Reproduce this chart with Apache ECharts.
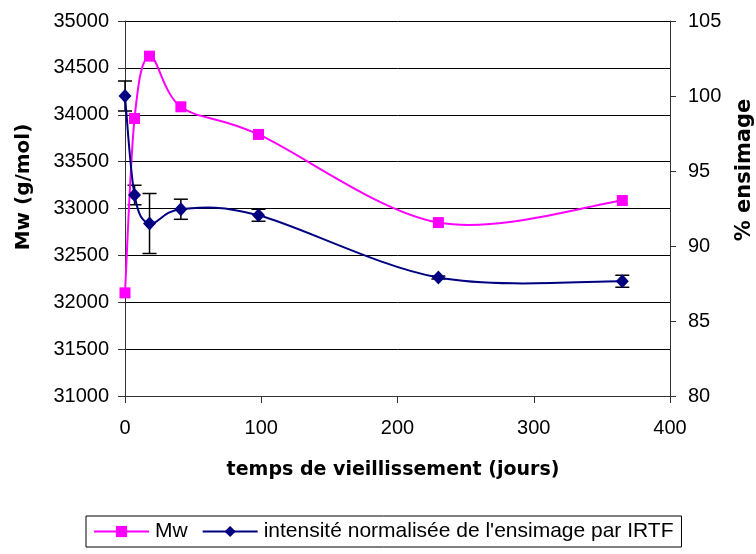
<!DOCTYPE html>
<html>
<head>
<meta charset="utf-8">
<script src="https://cdn.jsdelivr.net/npm/echarts@6/dist/echarts.min.js"></script>
<style>html,body{margin:0;padding:0;background:#fff;}#c{width:756px;height:554px;}</style>
</head>
<body>
<div id="c"></div>
<script>
// Data
const days = [0, 7, 18, 41, 98, 230, 365];
const mw = [32100, 33960, 34625, 34085, 33790, 32850, 33085];
const irtf = [100, 93.4, 91.5, 92.45, 92.05, 87.9, 87.65];
const irtfErr = [1, 0.65, 2, 0.67, 0.4, 0.1, 0.4];
const mwName = 'Mw';
const irtfName = "intensité normalisée de l'ensimage par IRTF";
const xTitle = 'temps de vieillissement (jours)';
const yLeftTitle = 'Mw (g/mol)';
const yRightTitle = '% ensimage';

const chart = echarts.init(document.getElementById('c'), null, {renderer: 'canvas'});
const FONT = 'Liberation Sans';
const TFONT = 'DejaVu Sans';
const axisColor = '#333';
const PINK = '#FF00FF';
const NAVY = '#000080';

// Excel-like smoothed curve (Catmull-Rom through the points, drawn with axis coords)
function curveRenderer(xs, ys, color) {
  return function (params, api) {
    const i = params.dataIndex;
    const n = xs.length;
    if (i >= n - 1) return null;
    const P = k => {
      const j = Math.max(0, Math.min(n - 1, k));
      return api.coord([xs[j], ys[j]]);
    };
    const p0 = P(i - 1), p1 = P(i), p2 = P(i + 1), p3 = P(i + 2);
    return {
      type: 'bezierCurve',
      shape: {
        x1: p1[0], y1: p1[1], x2: p2[0], y2: p2[1],
        cpx1: p1[0] + (p2[0] - p0[0]) / 6, cpy1: p1[1] + (p2[1] - p0[1]) / 6,
        cpx2: p2[0] - (p3[0] - p1[0]) / 6, cpy2: p2[1] - (p3[1] - p1[1]) / 6
      },
      style: {stroke: color, lineWidth: 2, fill: null}
    };
  };
}

const option = {
  animation: false,
  backgroundColor: '#fff',
  grid: {left: 125, top: 21, right: 86, bottom: 158, containLabel: false},
  legend: {
    data: [
      {name: mwName, lineStyle: {color: PINK, width: 2, opacity: 1}},
      {name: irtfName, lineStyle: {color: NAVY, width: 2, opacity: 1}}
    ],
    left: 86, top: 516,
    padding: [5, 8, 5, 7],
    itemWidth: 55, itemHeight: 14, itemGap: 14,
    borderColor: '#000', borderWidth: 1,
    textStyle: {fontFamily: FONT, fontSize: 21, color: '#000', padding: [0, 0, 0, 1]}
  },
  xAxis: {
    type: 'value', min: 0, max: 400, interval: 100,
    axisLine: {show: true, onZero: false, lineStyle: {color: axisColor, width: 1}},
    axisTick: {show: true, inside: false, length: 7, lineStyle: {color: axisColor}},
    axisLabel: {fontFamily: FONT, fontSize: 20, color: '#000', margin: 22},
    splitLine: {show: false}
  },
  yAxis: [
    {
      type: 'value', min: 31000, max: 35000, interval: 500,
      axisLine: {show: true, lineStyle: {color: axisColor, width: 1}},
      axisTick: {show: true, inside: false, length: 7, lineStyle: {color: axisColor}},
      axisLabel: {fontFamily: FONT, fontSize: 20, color: '#000', margin: 16, formatter: v => String(v)},
      splitLine: {show: true, lineStyle: {color: '#000', width: 1}}
    },
    {
      type: 'value', min: 80, max: 105, interval: 5, position: 'right',
      axisLine: {show: true, lineStyle: {color: axisColor, width: 1}},
      axisTick: {show: true, inside: false, length: 6, lineStyle: {color: axisColor}},
      axisLabel: {fontFamily: FONT, fontSize: 20, color: '#000', margin: 18, formatter: v => String(v)},
      splitLine: {show: false}
    }
  ],
  graphic: [
    {type: 'text', x: 393, y: 470, style: {text: xTitle, font: 'bold 19px "' + TFONT + '"', fill: '#000', textAlign: 'center', textVerticalAlign: 'middle'}},
    {type: 'text', x: 24, y: 187, rotation: Math.PI / 2, style: {text: yLeftTitle, font: 'bold 20px "' + TFONT + '"', fill: '#000', textAlign: 'center', textVerticalAlign: 'middle'}},
    {type: 'text', x: 745, y: 170, rotation: Math.PI / 2, style: {text: yRightTitle, font: 'bold 21px "' + TFONT + '"', fill: '#000', textAlign: 'center', textVerticalAlign: 'middle'}}
  ],
  series: [
    {
      name: 'err', type: 'custom', yAxisIndex: 1, z: 1,
      encode: {x: 0, y: [1, 2]},
      data: days.map((d, i) => [d, irtf[i] - irtfErr[i], irtf[i] + irtfErr[i]]),
      renderItem: function (params, api) {
        const x = api.value(0);
        const top = api.coord([x, api.value(2)]);
        const bot = api.coord([x, api.value(1)]);
        const w = 7;
        const st = {stroke: '#000', lineWidth: 1.5};
        return {type: 'group', children: [
          {type: 'line', shape: {x1: top[0], y1: top[1], x2: bot[0], y2: bot[1]}, style: st},
          {type: 'line', shape: {x1: top[0] - w, y1: top[1], x2: top[0] + w, y2: top[1]}, style: st},
          {type: 'line', shape: {x1: bot[0] - w, y1: bot[1], x2: bot[0] + w, y2: bot[1]}, style: st}
        ]};
      }
    },
    {
      name: 'mwCurve', type: 'custom', yAxisIndex: 0, z: 2,
      encode: {x: 0, y: 1},
      data: days.map((d, i) => [d, mw[i]]),
      renderItem: curveRenderer(days, mw, PINK)
    },
    {
      name: 'irtfCurve', type: 'custom', yAxisIndex: 1, z: 2,
      encode: {x: 0, y: 1},
      data: days.map((d, i) => [d, irtf[i]]),
      renderItem: curveRenderer(days, irtf, NAVY)
    },
    {
      name: mwName, type: 'line', yAxisIndex: 0, z: 3,
      data: days.map((d, i) => [d, mw[i]]),
      symbol: 'rect', symbolSize: 11, showAllSymbol: true,
      lineStyle: {color: PINK, width: 2, opacity: 0},
      itemStyle: {color: PINK}
    },
    {
      name: irtfName, type: 'line', yAxisIndex: 1, z: 4,
      data: days.map((d, i) => [d, irtf[i]]),
      symbol: 'diamond', symbolSize: [13, 14], showAllSymbol: true,
      lineStyle: {color: NAVY, width: 2, opacity: 0},
      itemStyle: {color: NAVY}
    }
  ]
};
chart.setOption(option);
</script>
</body>
</html>
